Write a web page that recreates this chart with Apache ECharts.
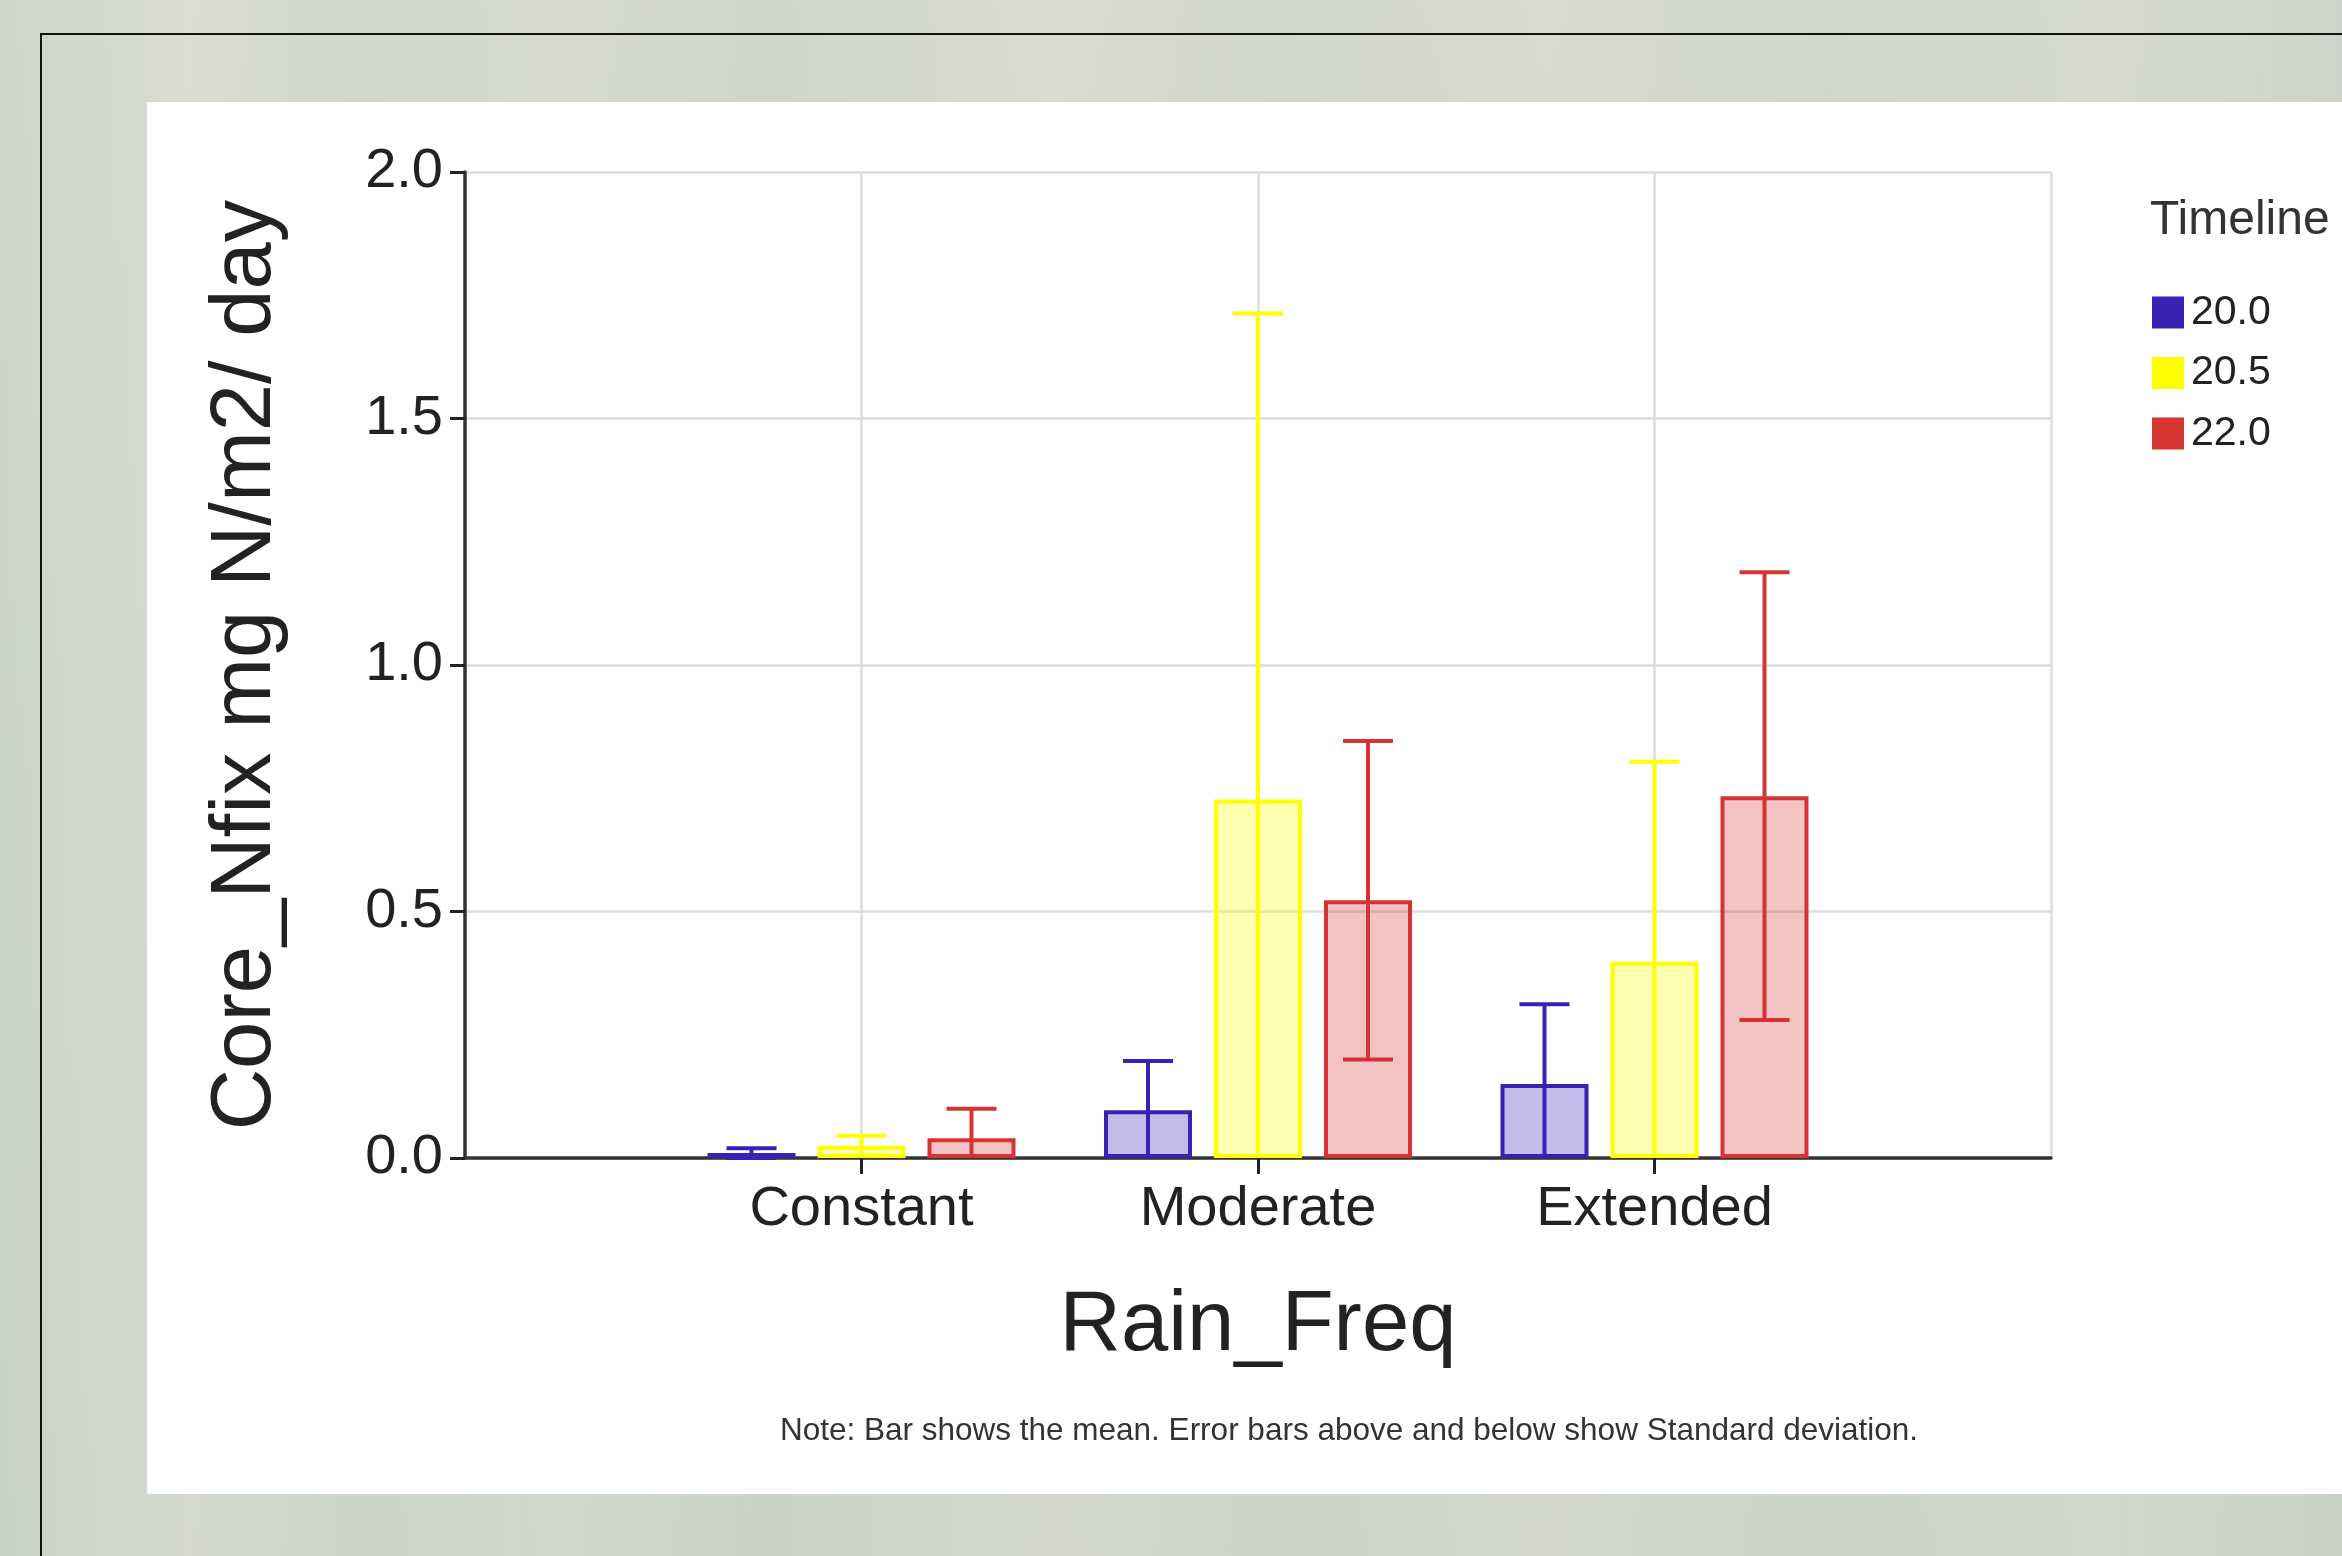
<!DOCTYPE html>
<html>
<head>
<meta charset="utf-8">
<script src="https://cdn.jsdelivr.net/npm/echarts@6/dist/echarts.min.js"></script>
<style>
  html, body { margin: 0; padding: 0; width: 2342px; height: 1556px; overflow: hidden; }
  body {
    background:
      linear-gradient(90deg, rgba(200,210,198,0.6) 0%, rgba(222,224,214,0.5) 8%, rgba(204,212,200,0.5) 15%, rgba(216,220,210,0.4) 24%, rgba(200,208,196,0.5) 33%, rgba(220,222,212,0.5) 45%, rgba(204,210,198,0.5) 55%, rgba(218,220,210,0.5) 66%, rgba(202,210,198,0.5) 78%, rgba(214,218,208,0.5) 90%, rgba(200,208,198,0.6) 100%),
      linear-gradient(180deg, #d7dad2 0%, #d0d6cc 50%, #ccd3c8 100%);
  }
  #frame { position: absolute; left: 40px; top: 33px; width: 2400px; height: 1600px; border: 2px solid #111; box-sizing: border-box; }
  #panel { position: absolute; left: 147px; top: 102px; width: 2195px; height: 1392px; background: #ffffff; }
  #chart { position: absolute; left: 0; top: 0; width: 2342px; height: 1556px; }
</style>
</head>
<body>
<div id="frame"></div>
<div id="panel"></div>
<div id="chart"></div>
<script>
// ---- data ----
const categories = ['Constant', 'Moderate', 'Extended'];
const seriesNames = ['20.0', '20.5', '22.0'];
const mean_20_0 = [0.010, 0.097, 0.150];
const sd_20_0   = [0.010, 0.100, 0.162];
const mean_20_5 = [0.025, 0.727, 0.398];
const sd_20_5   = [0.020, 0.986, 0.406];
const mean_22_0 = [0.040, 0.523, 0.734];
const sd_22_0   = [0.060, 0.323, 0.454];
const yTicks = [0, 0.5, 1.0, 1.5, 2.0];

// ---- styling ----
const colors = ['#3a20b3', '#ffff00', '#d63434'];
const fills = ['rgba(58,32,179,0.30)', 'rgba(255,255,0,0.30)', 'rgba(214,52,52,0.30)'];
const FONT = '"Liberation Sans", Arial, sans-serif';
const BAR_W = 88, BAR_GAP = 22, CAP = 50;

const means = [mean_20_0, mean_20_5, mean_22_0];
const sds = [sd_20_0, sd_20_5, sd_22_0];

// category axis padded with empty slots so categories sit at 1/4, 1/2, 3/4
const axisCats = [''].concat(categories).concat(['']);

const series = [];
seriesNames.forEach((name, i) => {
  series.push({
    name: name,
    type: 'bar',
    barWidth: BAR_W,
    barGap: (BAR_GAP / BAR_W * 100) + '%',
    data: [null].concat(means[i]).concat([null]),
    itemStyle: { color: fills[i], borderColor: colors[i], borderWidth: 4 },
    emphasis: { disabled: true },
    z: 2
  });
});
seriesNames.forEach((name, i) => {
  const offset = (i - 1) * (BAR_W + BAR_GAP);
  series.push({
    name: name,
    type: 'custom',
    z: 3,
    encode: { x: 0, y: [1, 2] },
    data: categories.map((c, k) => [k + 1, means[i][k] - sds[i][k], means[i][k] + sds[i][k]]),
    renderItem: function (params, api) {
      const ci = api.value(0);
      const lo = api.value(1), hi = api.value(2);
      const top = api.coord([ci, hi]);
      const bot = api.coord([ci, Math.max(lo, 0)]);
      const x = top[0] + offset;
      const st = { stroke: colors[i], lineWidth: 4 };
      const children = [
        { type: 'line', shape: { x1: x, y1: top[1], x2: x, y2: bot[1] }, style: st },
        { type: 'line', shape: { x1: x - CAP / 2, y1: top[1], x2: x + CAP / 2, y2: top[1] }, style: st }
      ];
      if (lo >= 0) {
        children.push({ type: 'line', shape: { x1: x - CAP / 2, y1: bot[1], x2: x + CAP / 2, y2: bot[1] }, style: st });
      }
      return { type: 'group', children: children };
    }
  });
});

const chart = echarts.init(document.getElementById('chart'), null, { renderer: 'canvas' });
chart.setOption({
  animation: false,
  backgroundColor: 'transparent',
  textStyle: { fontFamily: FONT },
  grid: { left: 465, right: 291, top: 172, bottom: 398, containLabel: false },
  legend: {
    data: seriesNames.map((n, i) => ({ name: n, itemStyle: { color: colors[i], borderWidth: 0 } })),
    orient: 'vertical',
    left: 2147,
    top: 287,
    itemWidth: 32,
    itemHeight: 32,
    itemGap: 19.5,
    icon: 'rect',
    textStyle: { fontFamily: FONT, fontSize: 41, color: '#222', padding: [0, 0, 0, 2] }
  },
  graphic: [
    { type: 'text', left: 2150, top: 197, style: { text: 'Timeline', font: '48px ' + FONT, fill: '#333' } },
    { type: 'text', x: 1349, y: 1431, style: { text: 'Note: Bar shows the mean. Error bars above and below show Standard deviation.', font: '31.5px ' + FONT, fill: '#333', align: 'center', verticalAlign: 'middle' } }
  ],
  xAxis: {
    type: 'category',
    data: axisCats,
    boundaryGap: false,
    name: 'Rain_Freq',
    nameLocation: 'middle',
    nameGap: 126,
    nameTextStyle: { fontFamily: FONT, fontSize: 85, color: '#222' },
    axisLine: { lineStyle: { color: '#333', width: 3.5 } },
    axisTick: { show: true, length: 16, lineStyle: { color: '#222', width: 3 }, interval: function (idx, val) { return val !== ''; } },
    axisLabel: { fontFamily: FONT, fontSize: 56, color: '#222', margin: 24, interval: 0 },
    splitLine: { show: true, interval: 0, lineStyle: { color: '#dddddd', width: 2.5 } }
  },
  yAxis: {
    type: 'value',
    min: 0,
    max: 2,
    interval: 0.5,
    name: 'Core_Nfix mg N/m2/ day',
    nameLocation: 'middle',
    nameGap: 176,
    nameTextStyle: { fontFamily: FONT, fontSize: 85, color: '#222' },
    axisLine: { show: true, lineStyle: { color: '#333', width: 3.5 } },
    axisTick: { show: true, length: 15, lineStyle: { color: '#222', width: 3 } },
    axisLabel: { fontFamily: FONT, fontSize: 56, color: '#222', margin: 22, formatter: function (v) { return yTicks.indexOf(v) >= 0 ? v.toFixed(1) : ''; } },
    splitLine: { show: true, lineStyle: { color: '#dddddd', width: 2.5 } }
  },
  series: series
});
</script>
</body>
</html>
